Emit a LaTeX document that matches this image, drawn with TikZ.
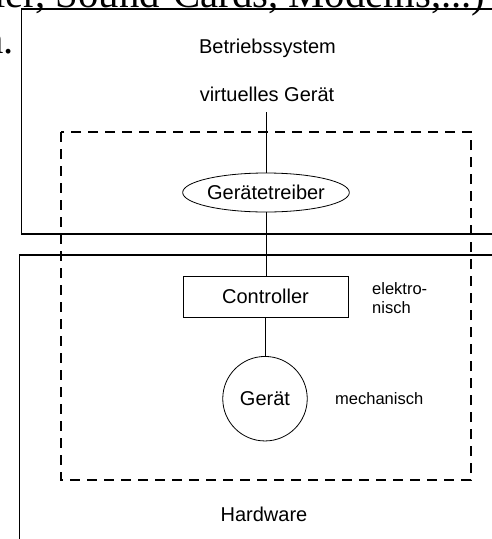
\documentclass[tikz,border=0pt]{standalone}
\usepackage{fontspec}
\setmainfont{Liberation Sans}
\newfontfamily\slidefont{Liberation Serif}
\usetikzlibrary{shapes.geometric}
\begin{document}
\begin{tikzpicture}[x=1pt,y=-1pt,
  lbl/.style={inner sep=0pt, anchor=base, font=\fontsize{20}{24}\selectfont},
  side/.style={inner sep=0pt, anchor=base west, font=\fontsize{16.5}{19}\selectfont},
  slidetext/.style={inner sep=0pt, font=\slidefont\fontsize{40.7}{44}\selectfont},
  frame/.style={line width=1.3pt},
  zone/.style={line width=1.3pt, dash pattern=on 10pt off 7pt},
  link/.style={line width=0.8pt},
  part/.style={draw, line width=0.8pt, inner sep=0pt, font=\fontsize{20}{24}\selectfont}]
\useasboundingbox (0,0) rectangle (492,539);
\clip (0,0) rectangle (492,539);

% running slide text around the figure
\node[slidetext, anchor=base west] (slideA) at (-6,7) {ler, Sound-Cards, Modems,...)};
\node[slidetext, anchor=base east] (slideB) at (14,53) {n.};

% layer frames: operating system above, hardware below
\draw[frame] (500,9) -- (21.5,9) -- (21.5,234) -- (500,234);
\draw[frame] (500,255) -- (19.5,255) -- (19.5,545);

% boundary of the device
\draw[zone] (61,132) rectangle (471,480);

% layer labels
\node[lbl] (os) at (267.5,53) {Betriebssystem};
\node[lbl] (vg) at (267,101) {virtuelles Gerät};
\node[lbl] (hw) at (264,521.5) {Hardware};

% device chain
\node[part, ellipse, minimum width=164pt, minimum height=39pt] (drv) at (266,192.5) {Gerätetreiber};
\node[part, rectangle, minimum width=165pt, minimum height=41pt] (ctl) at (265.5,296.5) {Controller};
\node[part, circle, minimum size=84.5pt] (dev) at (265,398.7) {Gerät};

% side notes
\node[side] (el1) at (372,294.5) {elektro-};
\node[side] (el2) at (372,313) {nisch};
\node[side] (mech) at (335,404) {mechanisch};

% connectors
\coordinate (vgfoot) at (266,112);
\draw[link] (vgfoot) -- (drv.north);
\draw[link] (drv.south) -- (drv.south |- ctl.north);
\draw[link] (ctl.south) -- (ctl.south |- dev.north);
\end{tikzpicture}
\end{document}
